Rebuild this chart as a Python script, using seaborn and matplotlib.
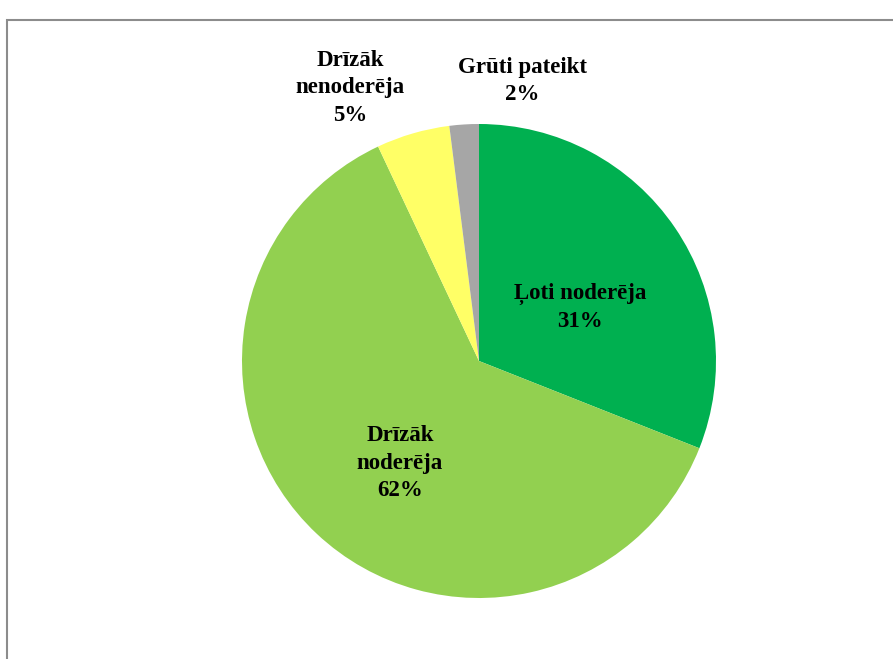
import matplotlib
matplotlib.use("Agg")
import matplotlib.pyplot as plt
import matplotlib.patches as mpatches
import seaborn as sns

categories = ["Ļoti noderēja", "Drīzāk\nnoderēja", "Drīzāk\nnenoderēja", "Grūti pateikt"]
values = [31, 62, 5, 2]
colors = ["#00B050", "#92D050", "#FFFF66", "#A6A6A6"]

sns.set_theme(style="white")
plt.rcParams['font.family'] = ['Liberation Serif', 'DejaVu Serif']

W, H = 893, 659
fig = plt.figure(figsize=(W / 100, H / 100), dpi=100)
fig.patch.set_facecolor("white")

# outer frame (extends beyond right/bottom edges)
fig.patches.append(mpatches.Rectangle((7 / W, 0 - 0.05), 1.0, (H - 20) / H + 0.05,
                                      transform=fig.transFigure, fill=False,
                                      edgecolor="#8C8C8C", linewidth=1.5))

cx, cy, r = 479, 361, 237
ax = fig.add_axes([(cx - r) / W, (H - cy - r) / H, 2 * r / W, 2 * r / H])
palette = sns.color_palette(colors)
wedges, _ = ax.pie(values, colors=palette, startangle=90, counterclock=False,
                   wedgeprops=dict(linewidth=0))
ax.set_xlim(-1, 1)
ax.set_ylim(-1, 1)
ax.set_aspect("auto")
ax.axis("off")

label_pos = [(580, 307), (400, 463), (350, 88), (522, 81)]
for cat, v, (px, py) in zip(categories, values, label_pos):
    fig.text(px / W, 1 - py / H, f"{cat}\n{v}%", ha="center", va="center",
             fontsize=16.5, fontweight="bold", color="black", linespacing=1.38)

fig.savefig("out.png", dpi=100, facecolor="white")
